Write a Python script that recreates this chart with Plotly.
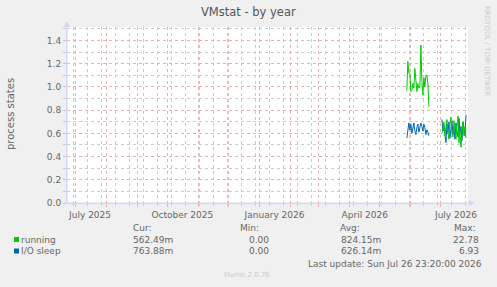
import plotly.graph_objects as go
import pandas as pd

# ---------------- data ----------------
x_start = "2025-06-23 00:00"
x_end = "2026-07-28 00:00"
y_max = 1.517

seg1_start, seg1_len = "2026-05-28", 23
seg2_start, seg2_len = "2026-07-02", 25
gap_date = "2026-06-25"

running_seg1 = [0.97, 1.22, 1.12, 1.12, 0.96, 0.97, 1.03, 0.99, 1.16, 1.06, 0.96, 1.03,
                0.99, 1.00, 1.36, 1.05, 0.93, 1.08, 1.00, 1.10, 1.10, 1.03, 0.83]
iosleep_seg1 = [0.56, 0.66, 0.69, 0.63, 0.68, 0.60, 0.65, 0.69, 0.62, 0.59, 0.65, 0.68,
                0.61, 0.64, 0.69, 0.66, 0.62, 0.68, 0.65, 0.59, 0.63, 0.61, 0.58]
running_seg2 = [0.60, 0.62, 0.70, 0.58, 0.66, 0.72, 0.61, 0.55, 0.68, 0.74, 0.60, 0.57, 0.71,
                0.63, 0.55, 0.66, 0.75, 0.52, 0.62, 0.48, 0.64, 0.70, 0.58, 0.66, 0.56]
iosleep_seg2 = [0.72, 0.62, 0.66, 0.58, 0.52, 0.68, 0.60, 0.70, 0.56, 0.64, 0.71, 0.59, 0.66,
                0.55, 0.69, 0.62, 0.57, 0.73, 0.60, 0.66, 0.54, 0.70, 0.61, 0.58, 0.76]

label_dates = ["2025-07-16", "2025-10-16", "2026-01-16", "2026-04-16", "2026-07-16"]
label_text = ["July 2025", "October 2025", "January 2026", "April 2026", "July 2026"]

series_names = ["running", "I/O sleep"]
series_colors = ["#00CC00", "#0066B3"]
cur_vals = ["562.49m", "763.88m"]
min_vals = ["0.00", "0.00"]
avg_vals = ["824.15m", "626.14m"]
max_vals = ["22.78", "6.93"]

title = "VMstat - by year"
y_title = "process states"
last_update = "Last update: Sun Jul 26 23:20:00 2026"
munin_ver = "Munin 2.0.76"
rrd_credit = "RRDTOOL / TOBI OETIKER"

# ---------------- layout helpers ----------------
W, H = 497, 287
L, R, T, B = 67, 29, 27, 84
PW, PH = W - L - R, H - T - B


def px(x):
    return (x - L) / PW


def py(y):
    return (H - B - y) / PH


FONT = "DejaVu Sans"
FC = "#666666"
MGRID = "#EDB0B0"
GRID = "#CCCCCC"
AXIS = "#CFD6F8"
DASH = "dot"

dates = (list(pd.date_range(seg1_start, periods=seg1_len, freq="D"))
         + [pd.Timestamp(gap_date)]
         + list(pd.date_range(seg2_start, periods=seg2_len, freq="D")))
running = running_seg1 + [None] + running_seg2
iosleep = iosleep_seg1 + [None] + iosleep_seg2

fig = go.Figure()
fig.add_trace(go.Scatter(x=dates, y=iosleep, mode="lines", name=series_names[1],
                         line=dict(color=series_colors[1], width=1), connectgaps=False))
fig.add_trace(go.Scatter(x=dates, y=running, mode="lines", name=series_names[0],
                         line=dict(color=series_colors[0], width=1), connectgaps=False))
# label axis helper trace (invisible)
fig.add_trace(go.Scatter(x=label_dates, y=[None] * len(label_dates), xaxis="x2",
                         mode="lines", showlegend=False, hoverinfo="skip"))

fig.update_layout(
    width=W, height=H,
    margin=dict(l=L, r=R, t=T, b=B, pad=0),
    paper_bgcolor="#F0F0F0", plot_bgcolor="#FFFFFF",
    showlegend=False,
    font=dict(family=FONT, size=9, color=FC),
    xaxis=dict(
        type="date", range=[x_start, x_end],
        tickmode="linear", tick0="2025-07-01", dtick="M1",
        showticklabels=False,
        showgrid=True, gridcolor=MGRID, griddash=DASH, gridwidth=1,
        ticks="outside", ticklen=3, tickcolor=MGRID,
        minor=dict(tickmode="linear", tick0="2025-06-29", dtick=14 * 86400000,
                   showgrid=True, gridcolor=GRID, griddash=DASH,
                   ticks="outside", ticklen=2, tickcolor=GRID),
        showline=True, linecolor=AXIS, linewidth=1,
        zeroline=False, fixedrange=True,
    ),
    xaxis2=dict(
        type="date", range=[x_start, x_end], overlaying="x", side="bottom",
        tickmode="array", tickvals=label_dates, ticktext=label_text,
        showgrid=False, ticks="outside", ticklen=3, tickcolor="rgba(0,0,0,0)",
        showline=False, zeroline=False,
        tickfont=dict(family=FONT, size=9, color=FC),
    ),
    yaxis=dict(
        range=[0, y_max], tickmode="linear", tick0=0, dtick=0.2, tickformat=".1f",
        showgrid=True, gridcolor=MGRID, griddash=DASH, gridwidth=1,
        ticks="outside", ticklen=3, tickcolor=MGRID,
        minor=dict(tickmode="linear", tick0=0.1, dtick=0.2, showgrid=True,
                   gridcolor=GRID, griddash=DASH,
                   ticks="outside", ticklen=3, tickcolor=GRID),
        showline=True, linecolor=AXIS, linewidth=1,
        zeroline=False, fixedrange=True,
        tickfont=dict(family=FONT, size=9, color=FC),
    ),
)

shapes = []
# axis arrows
shapes.append(dict(type="path", xref="paper", yref="paper",
                   path=f"M {px(64)},{py(27)} L {px(70)},{py(27)} L {px(67)},{py(21)} Z",
                   fillcolor=AXIS, line=dict(width=0)))
shapes.append(dict(type="line", xref="paper", yref="paper",
                   x0=px(67), x1=px(67), y0=py(203), y1=py(24),
                   line=dict(color=AXIS, width=1)))
shapes.append(dict(type="path", xref="paper", yref="paper",
                   path=f"M {px(469)},{py(200)} L {px(469)},{py(206)} L {px(475)},{py(203)} Z",
                   fillcolor=AXIS, line=dict(width=0)))
shapes.append(dict(type="line", xref="paper", yref="paper",
                   x0=px(64), x1=px(471), y0=py(203), y1=py(203),
                   line=dict(color=AXIS, width=1)))

ann = []


def text(x, y, s, anchor="left", size=9, color=FC, angle=0):
    ann.append(dict(x=px(x), y=py(y), xref="paper", yref="paper", text=s,
                    showarrow=False, xanchor=anchor, yanchor="middle",
                    textangle=angle, borderpad=0,
                    font=dict(family=FONT, size=size, color=color)))


text(248, 12, title, anchor="center", size=11.5, color="#555555")
text(11, 114, y_title, anchor="center", size=10, angle=-90)
text(487, 51, rrd_credit, anchor="center", size=7, color="#CCCCCC", angle=90)

# legend header
text(132, 228, "Cur:")
text(239, 228, "Min:")
text(339, 228, "Avg:")
text(477, 228, "Max:", anchor="right")

rows_y = [239.5, 251]
for i, name in enumerate(series_names):
    y = rows_y[i]
    shapes.append(dict(type="rect", xref="paper", yref="paper",
                       x0=px(14), x1=px(19), y0=py(y + 2.5), y1=py(y - 2.5),
                       fillcolor=series_colors[i], line=dict(width=0)))
    text(19.5, y, name)
    text(132, y, cur_vals[i])
    text(270, y, min_vals[i], anchor="right")
    text(382, y, avg_vals[i], anchor="right")
    text(480, y, max_vals[i], anchor="right")

text(483, 263.5, last_update, anchor="right")
text(246.5, 275, munin_ver, anchor="center", size=7, color="#CCCCCC")

fig.update_layout(shapes=shapes, annotations=ann)
fig.write_html("out.html")
